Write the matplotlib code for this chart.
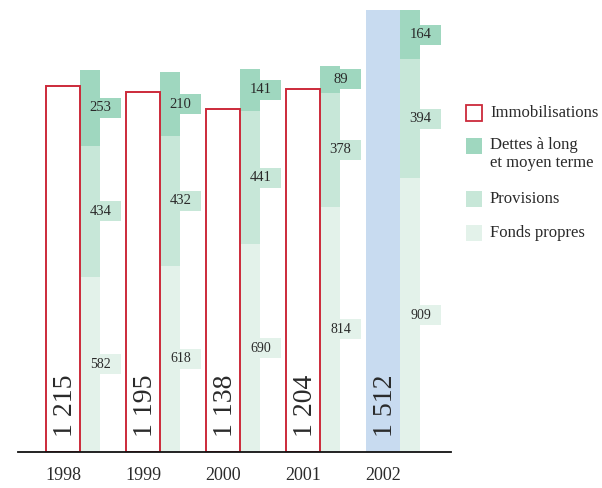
import matplotlib
matplotlib.use("Agg")
import matplotlib.pyplot as plt
from matplotlib.patches import Rectangle
import matplotlib.transforms as mtrans
import numpy as np

years = ["1998", "1999", "2000", "2001", "2002"]
immobilisations = [1215, 1195, 1138, 1204, 1512]
fonds_propres = [582, 618, 690, 814, 909]
provisions = [434, 432, 441, 378, 394]
dettes = [253, 210, 141, 89, 164]
legend_labels = ["Immobilisations", "Dettes à long\net moyen terme", "Provisions", "Fonds propres"]

RED = "#cc2a3a"
BLUE = "#c8dbf0"
C_DETTES = "#9fd7bf"
C_PROV = "#c7e7d8"
C_FONDS = "#e3f2ea"
TXT = "#2a2a2a"
SERIF = ["Liberation Serif", "DejaVu Serif"]

W, H = 602, 488
fig = plt.figure(figsize=(W / 100, H / 100), dpi=100)
ax = fig.add_axes([18 / W, 36 / H, 433 / W, 442 / H])

x = np.arange(len(years))
w_imm = 0.42
w_stk = 0.256
xs = x + w_imm / 2 + w_stk / 2

fp = np.array(fonds_propres)
pv = np.array(provisions)
dt = np.array(dettes)
ymax = (fp + pv + dt).max()

# stacked
ax.bar(xs, fp, width=w_stk, color=C_FONDS, edgecolor="none", linewidth=0, zorder=2)
ax.bar(xs, pv, width=w_stk, bottom=fp, color=C_PROV, edgecolor="none", linewidth=0, zorder=2)
ax.bar(xs, dt, width=w_stk, bottom=fp + pv, color=C_DETTES, edgecolor="none", linewidth=0, zorder=2)

# Immobilisations
for i, v in enumerate(immobilisations):
    if i == len(years) - 1:
        ax.bar(x[i], v, width=w_imm, color=BLUE, edgecolor="none", linewidth=0, zorder=3)
    else:
        ax.bar(x[i], v, width=w_imm, facecolor="white", edgecolor=RED, linewidth=1.4, zorder=3)

ax.set_xlim(-0.565, 4.8475)
ax.set_ylim(0, ymax)

# value boxes for stacked segments
px_per_unit = 442 / ymax
box_h = 20 / px_per_unit
for vals, bottoms, col, fs in [(fp, np.zeros_like(fp), C_FONDS, 10),
                               (pv, fp, C_PROV, 10.5),
                               (dt, fp + pv, C_DETTES, 10.5)]:
    for i in range(len(years)):
        yc = bottoms[i] + vals[i] / 2
        left = xs[i] - w_stk / 2 + 0.01
        ax.add_patch(Rectangle((left, yc - box_h / 2), 2 * w_stk - 0.01, box_h,
                               facecolor=col, edgecolor="none", linewidth=0, zorder=3))
        ax.text(xs[i] + w_stk / 2, yc, f"{vals[i]}", ha="center", va="center",
                fontsize=fs, family=SERIF, color=TXT, zorder=4)

# immobilisation labels (rotated)
off = mtrans.offset_copy(ax.transData, fig=fig, x=2, y=15, units="dots")
for i, v in enumerate(immobilisations):
    s = f"{v:,}".replace(",", " ")
    ax.text(x[i], 0, s, rotation=90, ha="center", va="bottom", transform=off,
            fontsize=20, family=SERIF, color=TXT, zorder=4)

# axes styling
for sp in ["top", "right", "left"]:
    ax.spines[sp].set_visible(False)
ax.spines["bottom"].set_color("#111111")
ax.spines["bottom"].set_linewidth(1.3)
ax.spines["bottom"].set_zorder(5)
ax.set_yticks([])
ax.set_xticks(x)
ax.set_xticklabels(years, family=SERIF, fontsize=13, color=TXT)
ax.tick_params(axis="x", length=0, pad=11)

# legend (manual)
def fx(px):
    return px / W

def fy(py):
    return 1 - py / H

items = [
    (113, "white", RED),
    (146, C_DETTES, "none"),
    (199, C_PROV, "none"),
    (233, C_FONDS, "none"),
]
for (yc, fc, ec), lab in zip(items, legend_labels):
    fig.add_artist(Rectangle((fx(466), fy(yc + 8)), 16 / W, 16 / H,
                             facecolor=fc, edgecolor=ec, linewidth=1.3,
                             transform=fig.transFigure))
    if "\n" in lab:
        fig.text(fx(490), fy(yc - 9), lab, ha="left", va="top", fontsize=12,
                 family=SERIF, color=TXT, linespacing=1.2)
    else:
        fig.text(fx(490), fy(yc), lab, ha="left", va="center", fontsize=12,
                 family=SERIF, color=TXT)

fig.savefig("out.png", dpi=100)
